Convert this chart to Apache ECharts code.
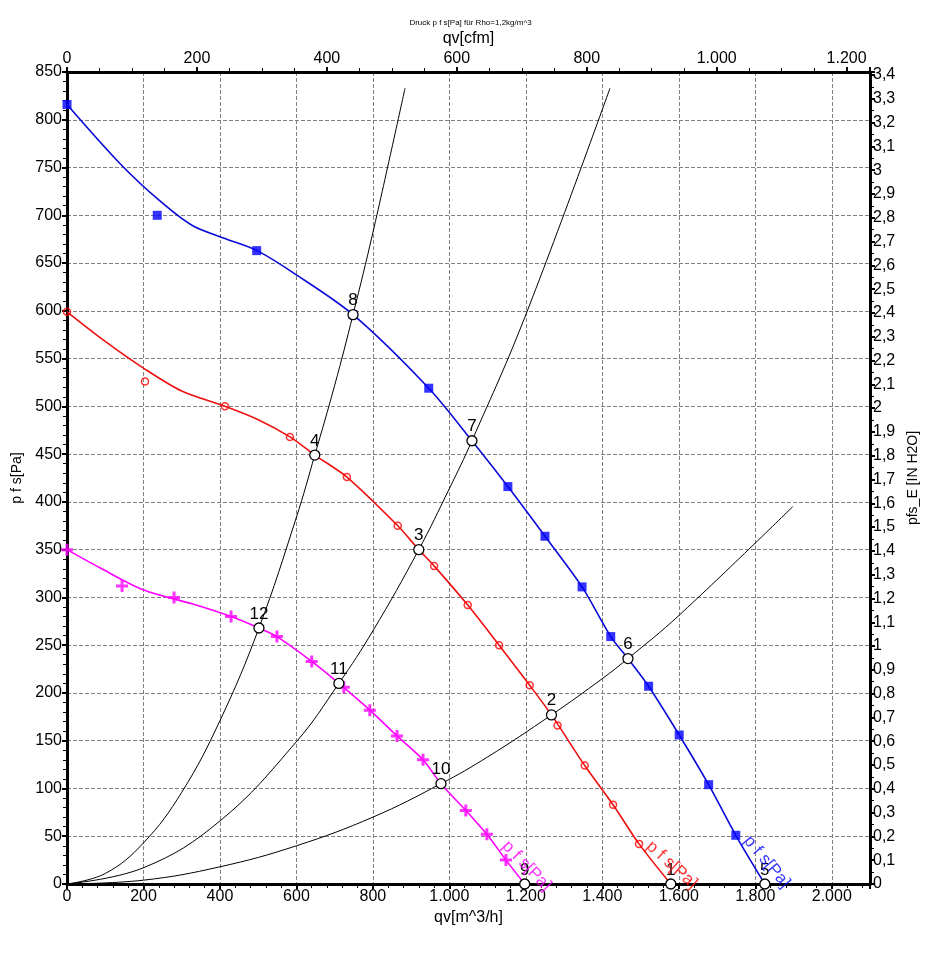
<!DOCTYPE html>
<html><head><meta charset="utf-8">
<script src="https://cdn.jsdelivr.net/npm/echarts@6.0.0/dist/echarts.min.js"></script>
<style>html,body{margin:0;padding:0;background:#fff}#c{width:941px;height:957px}</style>
</head><body><div id="c"></div>
<script>
// ---------- data ----------
const titleText = 'Druck p f s[Pa] für Rho=1,2kg/m^3';
const xName = 'qv[m^3/h]';
const x2Name = 'qv[cfm]';
const yName = 'p f s[Pa]';
const y2Name = 'pfs_E [IN H2O]';
const fanLabel = 'p f s[Pa]';

// fan curves [qv m^3/h, p Pa]
const blueCurve = [[0,816],[139,754],[243,715],[329,689],[418,675],[497,663],[591,640],[748,596],[946,519],[1059,464],[1153,416],[1250,364],[1347,311],[1422,259],[1467,236],[1521,207],[1601,156],[1678,104],[1749,51],[1825,0]];
const blueMarks = [[0,816],[236,700],[496,663],[748,596],[946,519],[1153,416],[1250,364],[1347,311],[1422,259],[1521,207],[1601,156],[1678,104],[1749,51]];

const redCurve = [[0,599],[100,568],[200,540],[300,516],[413,500],[500,486],[583,468],[648,449],[732,426],[865,375],[920,350],[960,333],[1048,292],[1130,250],[1210,208],[1267,177],[1354,124],[1428,83],[1496,42],[1579,0]];
const redMarks = [[0,599],[204,526],[413,500],[583,468],[732,426],[865,375],[960,333],[1048,292],[1130,250],[1210,208],[1283,166],[1354,124],[1428,83],[1496,42]];

const magCurve = [[0,350],[86,331],[199,308],[329,293],[429,280],[502,268],[549,259],[640,233],[711,210],[792,182],[863,155],[931,130],[978,105],[1043,77],[1098,52],[1148,25],[1197,0]];
const magMarks = [[0,350],[144,312],[280,300],[429,280],[549,259],[640,233],[724,206],[792,182],[863,155],[931,130],[1043,77],[1098,52],[1148,25]];

// system curves
const sysA = [[0,0],[100,11],[200,43],[300,96],[400,171],[502,268],[600,384],[648,449],[700,522],[748,596],[800,682],[884,833]];
const sysB = [[0,0],[200,17],[400,66],[600,149],[711,210],[800,265],[920,350],[1000,414],[1059,464],[1200,596],[1420,833]];
const sysC = [[0,0],[200,4],[400,18],[600,40],[800,70],[978,105],[1100,133],[1267,177],[1400,215],[1467,236],[1600,281],[1898,395]];

// operating points
const opNames = ['1','2','3','4','5','6','7','8','9','10','11','12'];
const opPoints = [[1579,0],[1267,177],[920,350],[648,449],[1825,0],[1467,236],[1059,464],[748,596],[1197,0],[978,105],[711,210],[502,268]];

// axes
const xMax = 2100, xStep = 200;
const yMax = 850, yStep = 50;
const cfmMax = 2100 / 1.699, cfmStep = 200;
const inH2OMax = 850 / 249.089, inH2OStep = 0.1;

// ---------- chart ----------
const thou = v => { const r = Math.round(v); return r >= 1000 ? Math.floor(r/1000) + '.' + String(r%1000).padStart(3,'0') : String(r); };
const comma = v => String(Math.round(v*10)/10).replace('.', ',');
const FONT = 'Liberation Sans, Arial, sans-serif';
const BLUE = '#0000ff', RED = '#ff0000', MAG = '#ff00ff';
const plus = 'path://M4.5,0H7.5V4.5H12V7.5H7.5V12H4.5V7.5H0V4.5H4.5Z';

const axisCommon = {
  axisLine: {show: true, onZero: false, lineStyle: {color: '#000', width: 3}},
  axisTick: {show: true, length: 5, lineStyle: {color: '#000', width: 2}},
  minorTick: {show: true, length: 4, lineStyle: {color: '#000', width: 1}},
  axisLabel: {color: '#000', fontSize: 16, fontFamily: FONT, margin: 5},
  nameTextStyle: {color: '#000', fontSize: 16, fontFamily: FONT},
  nameLocation: 'middle'
};
const grid = {type: 'dashed', color: '#808080', width: 1, dashOffset: 0};

const fanLine = (data, color) => ({type: 'line', data, smooth: 0.3, showSymbol: false, symbol: 'none',
  lineStyle: {color, width: 1.6}, z: 3, silent: true});
const sysLine = data => ({type: 'line', data, smooth: 0.4, showSymbol: false, symbol: 'none',
  lineStyle: {color: '#000', width: 1}, z: 2, silent: true});

const endLabel = (curve, color, rot, off) => ({
  value: curve[curve.length - 1],
  label: {show: true, position: 'inside', formatter: fanLabel, rotate: rot, offset: off, color, fontSize: 17, fontFamily: FONT}
});

const option = {
  animation: false,
  backgroundColor: '#fff',
  title: {text: titleText, left: 'center', top: 14, textStyle: {fontSize: 8, fontWeight: 'normal', color: '#000', fontFamily: FONT}},
  grid: {left: 67, right: 71, top: 72, bottom: 73, containLabel: false},
  xAxis: [
    Object.assign({}, axisCommon, {type: 'value', position: 'bottom', min: 0, max: xMax, interval: xStep,
      name: xName, nameGap: 22,
      minorTick: Object.assign({}, axisCommon.minorTick, {splitNumber: 5}),
      axisLabel: Object.assign({}, axisCommon.axisLabel, {formatter: thou, showMaxLabel: false}),
      splitLine: {show: true, lineStyle: grid}}),
    Object.assign({}, axisCommon, {type: 'value', position: 'top', min: 0, max: cfmMax, interval: cfmStep,
      name: x2Name, nameGap: 22,
      minorTick: Object.assign({}, axisCommon.minorTick, {splitNumber: 4}),
      axisLabel: Object.assign({}, axisCommon.axisLabel, {formatter: thou, showMaxLabel: false}),
      splitLine: {show: false}})
  ],
  yAxis: [
    Object.assign({}, axisCommon, {type: 'value', position: 'left', min: 0, max: yMax, interval: yStep,
      name: yName, nameGap: 23, nameRotate: 90,
      nameTextStyle: Object.assign({}, axisCommon.nameTextStyle, {fontSize: 14}),
      minorTick: Object.assign({}, axisCommon.minorTick, {splitNumber: 5}),
      splitLine: {show: true, lineStyle: grid}}),
    Object.assign({}, axisCommon, {type: 'value', position: 'right', min: 0, max: inH2OMax, interval: inH2OStep,
      name: y2Name, nameGap: 33, nameRotate: 90,
      nameTextStyle: Object.assign({}, axisCommon.nameTextStyle, {fontSize: 14}),
      minorTick: Object.assign({}, axisCommon.minorTick, {splitNumber: 2}),
      axisLabel: Object.assign({}, axisCommon.axisLabel, {formatter: comma, showMaxLabel: false, margin: 3}),
      splitLine: {show: false}})
  ],
  series: [
    sysLine(sysA), sysLine(sysB), sysLine(sysC),
    fanLine(blueCurve, '#0a0ad8'), fanLine(redCurve, '#ee1111'), fanLine(magCurve, MAG),
    {type: 'scatter', data: blueMarks, symbol: 'rect', symbolSize: 9, itemStyle: {color: BLUE}, z: 4, silent: true},
    {type: 'scatter', data: redMarks, symbol: 'circle', symbolSize: 7, itemStyle: {color: 'rgba(0,0,0,0)', borderColor: RED, borderWidth: 1.5}, z: 4, silent: true},
    {type: 'scatter', data: magMarks, symbol: plus, symbolSize: 12, itemStyle: {color: MAG}, z: 4, silent: true},
    {type: 'scatter', data: opPoints.map((p, i) => ({value: p, name: opNames[i]})), symbol: 'circle', symbolSize: 10,
      itemStyle: {color: '#fff', borderColor: '#000', borderWidth: 1.3, opacity: 1}, z: 6, silent: true,
      label: {show: true, position: 'top', distance: 0, formatter: p => p.name, color: '#000', fontSize: 17, fontFamily: FONT}},
    {type: 'scatter', symbolSize: 0, z: 10, silent: true, data: [
      endLabel(blueCurve, BLUE, -50, [-15.6, -15.7]),
      endLabel(redCurve, RED, -42, [-12, -14.8]),
      endLabel(magCurve, MAG, -46, [-11.6, -13.9])
    ]}
  ]
};
const chart = echarts.init(document.getElementById('c'), null, {renderer: 'canvas'});
chart.setOption(option);
</script>
</body></html>
